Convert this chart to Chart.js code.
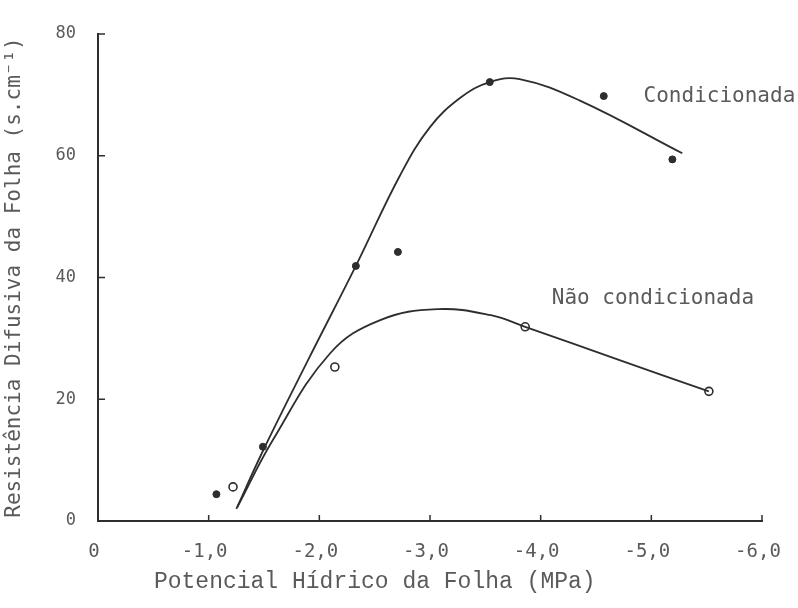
<!DOCTYPE html>
<html>
<head>
<meta charset="utf-8">
<script src="https://cdn.jsdelivr.net/npm/chart.js@4"></script>
<style>
  body { margin: 0; background: #fff; }
  #wrap { width: 798px; height: 608px; }
</style>
</head>
<body>
<div id="wrap"><canvas id="myChart"></canvas></div>
<script>
// values
const seriesNames = ['Condicionada', 'Não condicionada']

// measured points
const condX = [-1.07, -1.49, -2.33, -2.71, -3.54, -4.57, -5.19]
const condY = [4.4, 12.2, 41.9, 44.2, 72.1, 69.8, 59.4]
const naoX = [-1.22, -2.14, -3.86, -5.52]
const naoY = [5.6, 25.3, 31.9, 21.3]

// fitted curves
const condCurveX = [-1.25, -1.49, -1.9, -2.33, -2.73, -3.0, -3.28, -3.54, -3.81, -4.35, -5.28]
const condCurveY = [2.0, 11.5, 26.5, 41.9, 56.8, 64.7, 69.6, 72.1, 72.6, 69.1, 60.4]
const naoCurveX = [-1.26, -1.58, -2.10, -2.55, -3.07, -3.55, -3.86, -4.7, -5.52]
const naoCurveY = [2.3, 13.3, 27.6, 33.0, 34.8, 33.8, 31.9, 26.5, 21.3]

// axis ticks
const xTicks = [0, -1, -2, -3, -4, -5, -6]
const yTicks = [0, 20, 40, 60, 80]

// where the series names sit (data coords)
const labelX = [-4.93, -4.10]
const labelY = [69.8, 36.6]

const ink = '#2e2e2e'
const textInk = '#5a5a5a'

function toPoints(xs, ys) {
    return xs.map(function(v, i) { return {x: v, y: ys[i]} })
}

// inward tick marks + inline series names
const figureNotes = {
    id: 'figureNotes',
    afterDraw(chart) {
        const ctx = chart.ctx
        const x = chart.scales.x
        const y = chart.scales.y
        ctx.save()
        ctx.strokeStyle = ink
        ctx.lineWidth = 1.5
        yTicks.forEach(function(v) {
            if (v === 0) return
            const py = y.getPixelForValue(v)
            ctx.beginPath()
            ctx.moveTo(x.left, py)
            ctx.lineTo(x.left + 7, py)
            ctx.stroke()
        })
        xTicks.forEach(function(v) {
            if (v === 0) return
            const px = x.getPixelForValue(v)
            ctx.beginPath()
            ctx.moveTo(px, y.bottom)
            ctx.lineTo(px, y.bottom - 6)
            ctx.stroke()
        })
        ctx.font = '21px "DejaVu Sans Mono"'
        ctx.fillStyle = textInk
        ctx.textAlign = 'left'
        ctx.textBaseline = 'middle'
        seriesNames.forEach(function(name, i) {
            ctx.fillText(name, x.getPixelForValue(labelX[i]), y.getPixelForValue(labelY[i]))
        })
        ctx.restore()
    }
}

const ctx = document.getElementById('myChart').getContext('2d')
const myChart = new Chart(ctx, {
    type: 'scatter',
    data: {
        datasets: [{
            label: seriesNames[0] + ' (curva)',
            data: toPoints(condCurveX, condCurveY),
            showLine: true,
            borderColor: ink,
            borderWidth: 1.8,
            pointRadius: 0,
            tension: 0.4
        }, {
            label: seriesNames[1] + ' (curva)',
            data: toPoints(naoCurveX, naoCurveY),
            showLine: true,
            borderColor: ink,
            borderWidth: 1.8,
            pointRadius: 0,
            tension: 0.4
        }, {
            label: seriesNames[0],
            data: toPoints(condX, condY),
            pointStyle: 'circle',
            pointRadius: 3.5,
            backgroundColor: ink,
            borderColor: ink,
            borderWidth: 1
        }, {
            label: seriesNames[1],
            data: toPoints(naoX, naoY),
            pointStyle: 'circle',
            pointRadius: 4,
            backgroundColor: '#fff',
            borderColor: ink,
            borderWidth: 1.6
        }]
    },
    options: {
        responsive: true,
        maintainAspectRatio: false,
        animation: false,
        layout: {
            padding: {top: 34, right: 36, left: 0, bottom: 0}
        },
        plugins: {
            legend: {display: false},
            tooltip: {enabled: false}
        },
        scales: {
            x: {
                type: 'linear',
                min: -6,
                max: 0,
                reverse: true,
                afterFit: function(s) { s.height = 87 },
                afterBuildTicks: function(s) { s.ticks = xTicks.map(function(v) { return {value: v} }) },
                grid: {display: false},
                border: {display: true, color: ink, width: 2},
                ticks: {
                    padding: 12,
                    labelOffset: -4,
                    color: textInk,
                    font: {family: 'DejaVu Sans Mono', size: 19},
                    callback: function(v) { return v === 0 ? '0' : v.toFixed(1).replace('.', ',') }
                },
                title: {
                    display: true,
                    // trailing no-break spaces pull the centred title left, as in the figure
                    text: 'Potencial Hídrico da Folha (MPa)\u00a0\u00a0\u00a0\u00a0\u00a0\u00a0\u00a0\u00a0',
                    color: textInk,
                    font: {family: 'Liberation Mono', size: 23},
                    padding: {top: 4, bottom: 12}
                }
            },
            y: {
                type: 'linear',
                min: 0,
                max: 80,
                afterFit: function(s) { s.width = 98 },
                afterBuildTicks: function(s) { s.ticks = yTicks.map(function(v) { return {value: v} }) },
                grid: {display: false},
                border: {display: true, color: ink, width: 2},
                ticks: {
                    padding: 14,
                    color: textInk,
                    font: {family: 'DejaVu Sans Mono', size: 17},
                    callback: function(v) { return String(v) }
                },
                title: {
                    display: true,
                    text: 'Resistência Difusiva da Folha (s.cm⁻¹)',
                    color: textInk,
                    font: {family: 'DejaVu Sans Mono', size: 21},
                    padding: {top: 2, bottom: 2}
                }
            }
        }
    },
    plugins: [figureNotes]
})
</script>
</body>
</html>
